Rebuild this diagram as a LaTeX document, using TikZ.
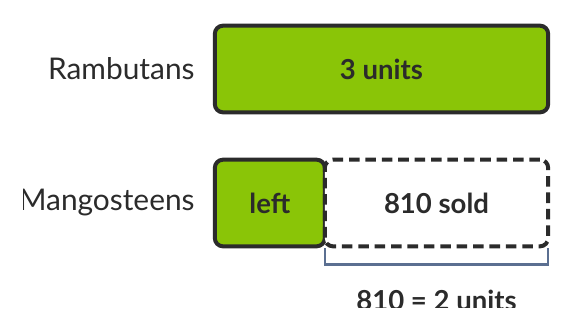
\documentclass[tikz,border=0pt]{standalone}
\usepackage{fontspec}
\setmainfont{Lato}
\usetikzlibrary{positioning}
\definecolor{barfill}{HTML}{8AC507}
\definecolor{barline}{HTML}{2B2B2B}
\definecolor{bracecol}{HTML}{5B6F91}
\begin{document}
\begin{tikzpicture}[
    x=0.03cm, y=-0.03cm,
    bar/.style={rectangle, draw=barline, line width=3.4pt, rounded corners=7pt, minimum height=2.6cm, inner sep=0pt, outer sep=0pt, font=\fontsize{23.5}{28}\selectfont\bfseries, text=barline},
    fruit/.style={inner sep=0pt, font=\fontsize{25.5}{30}\selectfont, text=barline}
]
    \useasboundingbox (0,0) rectangle (576,330);
    \clip (23,0) rectangle (576,307);

    \node[bar, fill=barfill, minimum width=10.0cm] (units) at (381.5,69) {3 units};
    \node[bar, fill=barfill, minimum width=3.3cm, below=1.42cm of units.south west, anchor=north west] (left) {left};
    \node[bar, fill=white, dash pattern=on 9pt off 5pt, minimum width=6.7cm, right=0cm of left] (sold) {810 sold};

    % labels
    \node[fruit, left=0.6cm of units] (ramb) {Rambutans};
    \node[fruit, left=0.6cm of left] (mang) {Mangosteens};

    % bracket
    \draw[bracecol, line width=2pt] ([yshift=-0.06cm]sold.south west) -- ++(0,16) -| ([yshift=-0.06cm]sold.south east);
    \node[fruit, font=\fontsize{23.5}{28}\selectfont\bfseries, anchor=center] (eq) at ([yshift=-1.62cm]sold.south) {810 = 2 units};
\end{tikzpicture}
\end{document}
